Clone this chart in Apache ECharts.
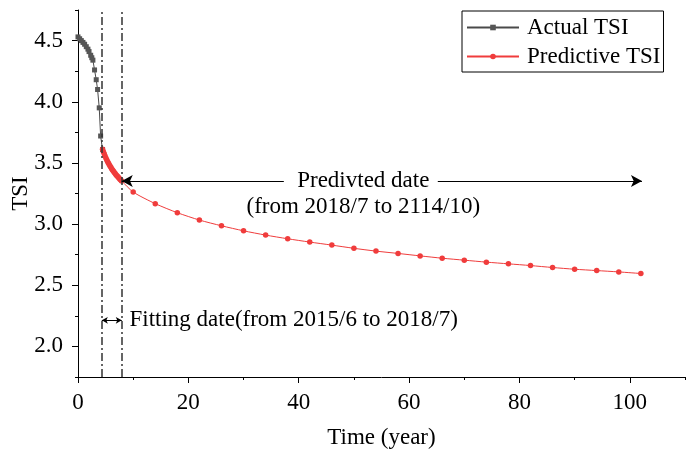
<!DOCTYPE html>
<html>
<head>
<meta charset="utf-8">
<script src="https://cdn.jsdelivr.net/npm/echarts@6/dist/echarts.min.js"></script>
<style>html,body{margin:0;padding:0;background:#fff;}#c{width:686px;height:450px;}</style>
</head>
<body>
<div id="c"></div>
<script>
// ---- data ----
const actualYears = [0, 0.3, 0.6, 0.9, 1.2, 1.5, 1.8, 2.0, 2.3, 2.5, 2.7, 3.0, 3.3, 3.55, 3.85, 4.1, 4.45];
const actualTSI   = [4.53, 4.515, 4.50, 4.485, 4.47, 4.45, 4.43, 4.41, 4.38, 4.36, 4.34, 4.26, 4.18, 4.10, 3.95, 3.72, 3.61];

const predYears = [4.45, 4.6, 4.75, 4.9, 5.05, 5.2, 5.35, 5.5, 5.65, 5.8, 5.95, 6.1, 6.25, 6.4, 6.55, 6.7, 6.85, 7.0, 7.15, 7.3, 7.45, 7.6, 7.75, 7.9,
                   10, 14, 18, 22, 26, 30, 34, 38, 42, 46, 50, 54, 58, 62, 66, 70, 74, 78, 82, 86, 90, 94, 98, 102];
const predTSI   = [3.612, 3.592, 3.574, 3.557, 3.541, 3.526, 3.512, 3.499, 3.487, 3.475, 3.464, 3.453, 3.443, 3.433, 3.424, 3.415, 3.406, 3.398, 3.390, 3.382, 3.374, 3.367, 3.360, 3.353,
                   3.262, 3.167, 3.093, 3.033, 2.986, 2.945, 2.910, 2.880, 2.853, 2.828, 2.802, 2.779, 2.760, 2.740, 2.721, 2.705, 2.689, 2.675, 2.661, 2.645, 2.631, 2.620, 2.609, 2.596];

const xMajorTicks = [0, 20, 40, 60, 80, 100];
const yMajorTicks = [2.0, 2.5, 3.0, 3.5, 4.0, 4.5];

const fitStart = 4.32, fitEnd = 7.93;       // vertical dash-dot lines
const predArrowY = 3.352, predArrowEnd = 102.2;
const fitArrowY = 2.213;

const seriesNames = ['Actual TSI', 'Predictive TSI'];
const predText = 'Predivted date\n(from 2018/7 to 2114/10)';
const fitText = 'Fitting date(from 2015/6 to 2018/7)';

// ---- chart ----
const FONT = 'Liberation Serif';
const FS = 23;
const chart = echarts.init(document.getElementById('c'), null, {renderer: 'canvas'});
const zip = (a, b) => a.map((v, i) => [v, b[i]]);

const axisTextStyle = {fontFamily: FONT, fontSize: FS, color: '#000'};

const option = {
  animation: false,
  backgroundColor: '#fff',
  grid: {left: 78, right: 1, top: 10, bottom: 73, containLabel: false, outerBoundsMode: 'none'},
  legend: {
    data: seriesNames,
    orient: 'vertical',
    left: 462, top: 11,
    itemWidth: 52, itemHeight: 7, itemGap: 6,
    padding: [5, 3, 4, 4],
    borderColor: '#000', borderWidth: 1,
    textStyle: {fontFamily: FONT, fontSize: FS, color: '#000', lineHeight: 23, padding: [0, 0, 0, 3]}
  },
  xAxis: [{
    type: 'value', min: 0, max: 110, interval: 10, position: 'bottom',
    name: 'Time (year)', nameLocation: 'middle', nameGap: 49, nameMoveOverlap: false,
    nameTextStyle: axisTextStyle,
    axisLine: {show: true, onZero: false, lineStyle: {color: '#000', width: 1}},
    axisTick: {show: true, length: 6, customValues: xMajorTicks, lineStyle: {color: '#000'}},
    axisLabel: {show: true, customValues: xMajorTicks, margin: 14, ...axisTextStyle},
    splitLine: {show: false}
  }, {
    type: 'value', min: 0, max: 110, interval: 10, position: 'bottom', offset: 0,
    axisLine: {show: false, onZero: false},
    axisTick: {show: true, length: 3, lineStyle: {color: '#000'}},
    axisLabel: {show: false},
    splitLine: {show: false}
  }],
  yAxis: [{
    type: 'value', min: 1.75, max: 4.75, interval: 0.25, position: 'left',
    name: 'TSI', nameLocation: 'middle', nameGap: 46, nameMoveOverlap: false,
    nameTextStyle: axisTextStyle,
    axisLine: {show: true, onZero: false, lineStyle: {color: '#000', width: 1}},
    axisTick: {show: true, length: 6, customValues: yMajorTicks, lineStyle: {color: '#000'}},
    axisLabel: {show: true, customValues: yMajorTicks, margin: 15, formatter: v => Number(v).toFixed(1), ...axisTextStyle},
    splitLine: {show: false}
  }, {
    type: 'value', min: 1.75, max: 4.75, interval: 0.25, position: 'left', offset: 0,
    axisLine: {show: false, onZero: false},
    axisTick: {show: true, length: 3, lineStyle: {color: '#000'}},
    axisLabel: {show: false},
    splitLine: {show: false}
  }],
  series: [
    {
      name: seriesNames[0], type: 'line', xAxisIndex: 0, yAxisIndex: 0,
      data: zip(actualYears, actualTSI),
      symbol: 'rect', symbolSize: 5, showSymbol: true,
      lineStyle: {color: '#4a4a4a', width: 1},
      itemStyle: {color: '#555555'},
      z: 3
    },
    {
      name: seriesNames[1], type: 'line', xAxisIndex: 0, yAxisIndex: 0,
      data: zip(predYears, predTSI),
      symbol: 'circle', symbolSize: 5.5, showSymbol: true, smooth: 0.25,
      lineStyle: {color: '#f03c3c', width: 1},
      itemStyle: {color: '#f03c3c'},
      z: 4
    },
    {
      name: 'annotations', type: 'line', xAxisIndex: 0, yAxisIndex: 0, data: [],
      silent: true, z: 5,
      markLine: {
        silent: true, animation: false,
        label: {show: false},
        emphasis: {disabled: true},
        data: [
          [{coord: [fitStart, 1.75], symbol: 'none'}, {coord: [fitStart, 4.75], symbol: 'none', lineStyle: {color: '#333', width: 1.5, type: [8, 3, 2, 3]}}],
          [{coord: [fitEnd, 1.75], symbol: 'none'}, {coord: [fitEnd, 4.75], symbol: 'none', lineStyle: {color: '#333', width: 1.5, type: [8, 3, 2, 3]}}],
          [{coord: [fitEnd, predArrowY], symbol: 'arrow', symbolSize: [9, 11]}, {coord: [37.3, predArrowY], symbol: 'none', lineStyle: {color: '#000', width: 1, type: 'solid'}}],
          [{coord: [65.2, predArrowY], symbol: 'none'}, {coord: [predArrowEnd, predArrowY], symbol: 'arrow', symbolSize: [9, 11], lineStyle: {color: '#000', width: 1, type: 'solid'}}],
          [{coord: [fitStart, fitArrowY], symbol: 'arrow', symbolSize: [5, 6]}, {coord: [fitEnd, fitArrowY], symbol: 'arrow', symbolSize: [5, 6], lineStyle: {color: '#000', width: 1, type: 'solid'}}]
        ]
      },
      markPoint: {
        silent: true, animation: false,
        symbol: 'circle', symbolSize: 1,
        itemStyle: {color: 'rgba(0,0,0,0)'},
        data: [
          {coord: [51.7, 3.246], label: {show: true, position: 'inside', formatter: predText, align: 'center', verticalAlign: 'middle', lineHeight: 26, fontFamily: FONT, fontSize: FS, color: '#000'}},
          {coord: [9.24, fitArrowY], label: {show: true, position: 'right', distance: 0, formatter: fitText, align: 'left', verticalAlign: 'middle', fontFamily: FONT, fontSize: FS, color: '#000'}}
        ]
      }
    }
  ]
};
chart.setOption(option);
</script>
</body>
</html>
